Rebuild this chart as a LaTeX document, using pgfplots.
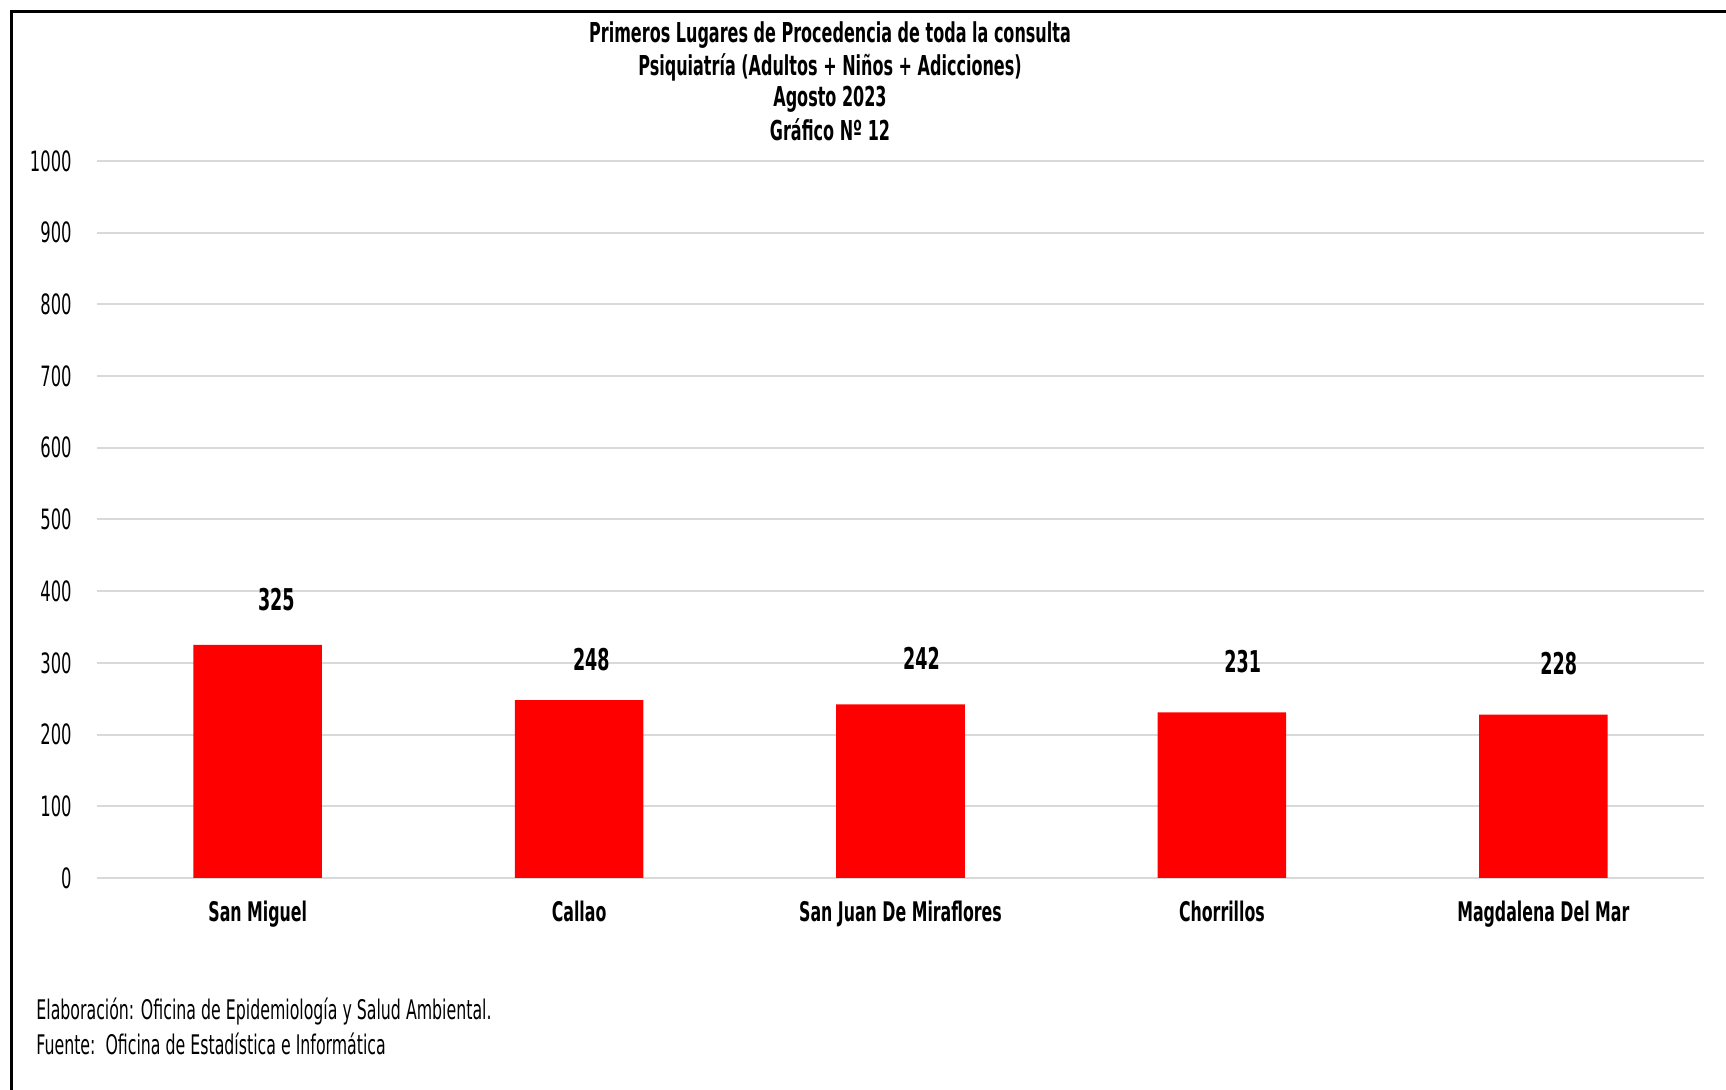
\documentclass[border=0pt]{standalone}
\usepackage{pgfplots}
\pgfplotsset{compat=1.18}
\usepackage{fontspec}
\setmainfont{DejaVu Sans Condensed}[FakeStretch=0.65]
\definecolor{gridgray}{HTML}{D9D9D9}
\definecolor{barred}{HTML}{FF0000}
\begin{document}
\begin{tikzpicture}
\path[use as bounding box] (0,0) rectangle (863bp,545bp);
\draw[line width=1.5bp] (5.5bp,0) -- (5.5bp,539bp) -- (863bp,539bp);
\begin{axis}[
  at={(48.5bp,106bp)}, anchor=south west,
  scale only axis, width=803.5bp, height=358.5bp,
  xmin=-0.5, xmax=4.5, ymin=0, ymax=1000,
  ytick={0,100,...,1000},
  xtick={0,1,2,3,4},
  xticklabels={San Miguel,Callao,San Juan De Miraflores,Chorrillos,Magdalena Del Mar},
  axis line style={draw=none},
  major tick length=0pt,
  ymajorgrids,
  grid style={line width=1bp, color=gridgray},
  /pgf/number format/assume math mode=true,
  /pgf/number format/1000 sep={},
  yticklabel style={font=\fontsize{14bp}{14bp}\selectfont, anchor=east, inner sep=0pt, xshift=-12.5bp},
  xticklabel style={font=\fontsize{13.5bp}{13.5bp}\selectfont\bfseries, anchor=base, inner sep=0pt, yshift=-22bp},
  clip=false,
]
\addplot[ybar, bar width=0.4, fill=barred, draw=none] coordinates {(0,325) (1,248) (2,242) (3,231) (4,228)};
\addplot[draw=none, mark=none, nodes near coords, point meta=explicit symbolic,
  every node near coord/.append style={anchor=center, inner sep=0pt, font=\fontsize{15bp}{15bp}\selectfont\bfseries, text=black}]
  table[meta=lab] {
x y lab
0.058 388 325
1.038 304 248
2.065 307 242
3.065 302 231
4.048 299 228
};
\end{axis}
\begin{scope}[every node/.style={font=\fontsize{13.7bp}{13.7bp}\selectfont\bfseries}]
\node at (415bp,527.5bp) {Primeros Lugares de Procedencia de toda la consulta};
\node at (415bp,511.5bp) {Psiquiatría (Adultos + Niños + Adicciones)};
\node at (415bp,495.5bp) {Agosto 2023};
\node at (415bp,480bp) {Gráfico Nº 12};
\end{scope}
\node[anchor=west, inner sep=0pt, font=\fontsize{13.5bp}{13.5bp}\selectfont] at (18bp,39.2bp) {Elaboración: Oficina de Epidemiología y Salud Ambiental.};
\node[anchor=west, inner sep=0pt, font=\fontsize{13.5bp}{13.5bp}\selectfont] at (18bp,23.2bp) {Fuente:\ \ Oficina de Estadística e Informática};
\end{tikzpicture}
\end{document}
